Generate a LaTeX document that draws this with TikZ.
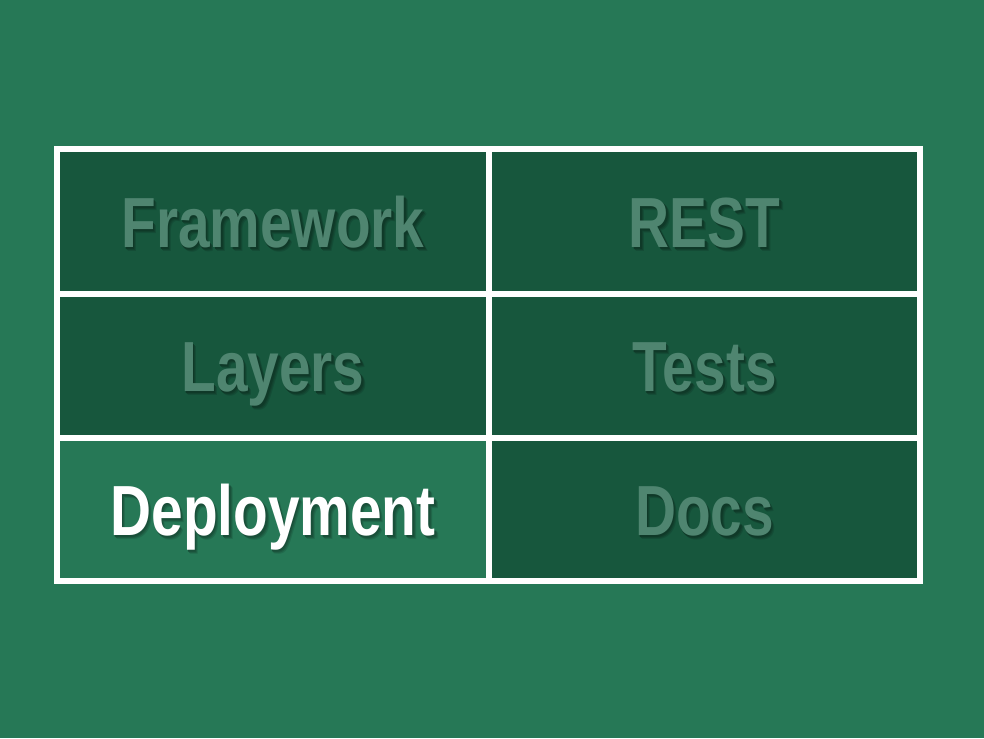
\documentclass[tikz,border=0pt]{standalone}
\usepackage{fontspec}
\setmainfont{Liberation Sans}
\definecolor{bg}{HTML}{267856}
\definecolor{cellfill}{HTML}{17573D}
\definecolor{faded}{HTML}{4F8570}
\tikzset{
  gridline/.style={draw=white, line width=5.5pt},
  label/.style={anchor=base, inner sep=0pt, font=\bfseries\fontsize{71}{71}\selectfont},
}
% text with a soft drop shadow: ground colour, text colour, text
\newcommand{\softshadow}[3]{%
  \scalebox{0.8}[1]{%
    \makebox[0pt][l]{\hspace{4.4pt}\raisebox{-4pt}{\textcolor{#1!88!black}{#3}}}%
    \makebox[0pt][l]{\hspace{3.1pt}\raisebox{-3pt}{\textcolor{#1!76!black}{#3}}}%
    \makebox[0pt][l]{\hspace{1.9pt}\raisebox{-2pt}{\textcolor{#1!66!black}{#3}}}%
    \textcolor{#2}{#3}}}
\begin{document}
\begin{tikzpicture}[x=1pt,y=-1pt]
\fill[bg] (0,0) rectangle (984,738);
\useasboundingbox (0,0) rectangle (984,738);
% dark cells; the lower left one keeps the background colour
\fill[cellfill] (57,149) rectangle (920,438);
\fill[cellfill] (489,438) rectangle (920,581);
% labels
\node[label] (framework) at (273,247)   {\softshadow{cellfill}{faded}{Framework}};
\node[label] (rest)      at (704.5,247) {\softshadow{cellfill}{faded}{REST}};
\node[label] (layers)    at (273,391.5) {\softshadow{cellfill}{faded}{Layers}};
\node[label] (tests)     at (704.5,391.5) {\softshadow{cellfill}{faded}{Tests}};
\node[label] (deploy)    at (273,535.5) {\softshadow{bg}{white}{Deployment}};
\node[label] (docs)      at (704.5,535.5) {\softshadow{cellfill}{faded}{Docs}};
% grid
\draw[gridline] (57,149) rectangle (920,581);
\draw[gridline] (489,149) -- (489,581);
\draw[gridline] (57,294) -- (920,294);
\draw[gridline] (57,438) -- (920,438);
\end{tikzpicture}
\end{document}
